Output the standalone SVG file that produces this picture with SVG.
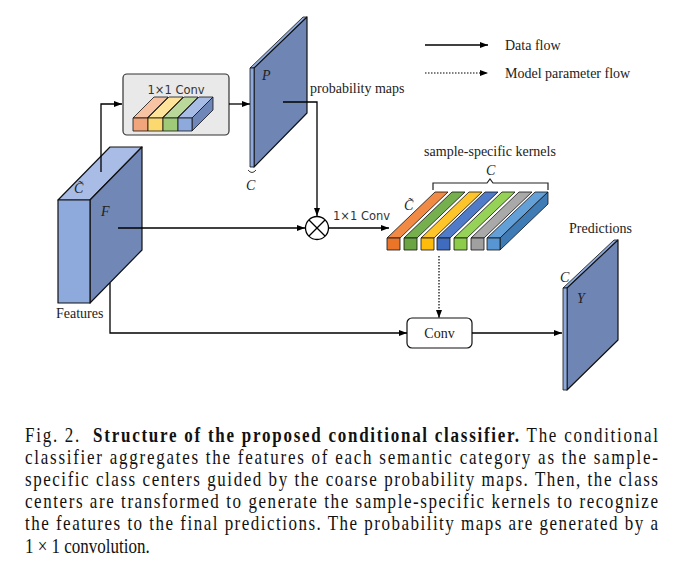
<svg xmlns="http://www.w3.org/2000/svg" width="675" height="583" viewBox="0 0 675 583">
<defs>
<marker id="ah" viewBox="0 0 8 6" refX="8" refY="3" markerWidth="8" markerHeight="6" markerUnits="userSpaceOnUse" orient="auto"><path d="M0,0 L8,3 L0,6 z" fill="#000"/></marker>
<style>
.ln{fill:none;stroke:#000;stroke-width:1.3}
.dt{fill:none;stroke:#000;stroke-width:1.2;stroke-dasharray:1.5 1.5}
.lbl{font-family:"Liberation Serif",serif;font-size:14px;fill:#222}
.mth{font-family:"Liberation Serif",serif;font-style:italic;font-size:14px;fill:#222}
.cv{font-family:"DejaVu Sans",sans-serif;font-size:11.5px;fill:#333}
.cap{font-family:"Liberation Serif",serif;font-size:20px;fill:#111}
.ed{stroke:#111;stroke-width:1.2;stroke-linejoin:round}
.th{stroke:#111;stroke-width:0.8;stroke-linejoin:round}
</style>
</defs>
<rect width="675" height="583" fill="#fff"/>

<g id="legend">
<line class="ln" x1="425" y1="45" x2="488" y2="45" marker-end="url(#ah)"/>
<text class="lbl" x="505" y="50">Data flow</text>
<line class="dt" x1="425" y1="73" x2="488" y2="73" marker-end="url(#ah)"/>
<text class="lbl" x="505" y="78">Model parameter flow</text>
</g>

<g id="features">
<polygon class="ed" points="58,200 110,147 142,147 90,200" fill="#a8bce6"/>
<polygon class="ed" points="90,200 142,147 142,250 90,303" fill="#7187b5"/>
<rect class="ed" x="58" y="200" width="32" height="103" fill="#8eaadc"/>
<text class="mth" x="74" y="193">C̃</text>
<text class="mth" x="101" y="216">F</text>
<text class="lbl" x="56" y="318">Features</text>
</g>

<g id="conv1x1">
<rect x="123" y="74" width="106" height="61" rx="4" fill="#e9e9e9" stroke="#333" stroke-width="1.2"/>
<text class="cv" x="176" y="94" text-anchor="middle">1×1 Conv</text>
<g>
<polygon class="th" points="133,118 154,97 168,97 147,118" fill="#f7c3a3"/>
<polygon class="th" points="148,118 169,97 183,97 162,118" fill="#fde49a"/>
<polygon class="th" points="163,118 184,97 198,97 177,118" fill="#b9d89a"/>
<polygon class="th" points="178,118 199,97 213,97 192,118" fill="#a7bde6"/>
<polygon class="th" points="192,118 213,97 213,110 192,131" fill="#6f86b8"/>
<rect class="th" x="133" y="118" width="15" height="13" fill="#f1a57a"/>
<rect class="th" x="148" y="118" width="15" height="13" fill="#fcd96f"/>
<rect class="th" x="163" y="118" width="15" height="13" fill="#9fcb78"/>
<rect class="th" x="178" y="118" width="14" height="13" fill="#8eaadc"/>
</g>
</g>

<g id="probmaps">
<polygon class="th" points="250,68 303,17 307,17 254,68" fill="#8eaadc"/>
<polygon class="ed" points="254,68 307,17 307,113 254,167" fill="#6f86b5"/>
<rect class="th" x="250" y="68" width="4" height="99" fill="#8eaadc"/>
<path d="M248,170 Q252,175 256,170" fill="none" stroke="#222" stroke-width="0.9"/>
<text class="mth" x="262" y="80">P</text>
<text class="mth" x="246" y="190">C</text>
<text class="lbl" x="310" y="93">probability maps</text>
</g>

<g id="kernels">
<text class="lbl" x="490" y="156" text-anchor="middle">sample-specific kernels</text>
<path d="M433,190 L433,183 L487,183 L490,179 L493,183 L548,183 L548,190" fill="none" stroke="#222" stroke-width="1.2"/>
<text class="mth" x="486" y="175">C</text>
<text class="mth" x="404" y="210">C̃</text>
<polygon class="th" points="387,238 435,192 448,192 400,238" fill="#f08a45"/>
<polygon class="th" points="404,238 452,192 465,192 417,238" fill="#76b04e"/>
<polygon class="th" points="421,238 469,192 482,192 434,238" fill="#fec52a"/>
<polygon class="th" points="437,238 485,192 498,192 450,238" fill="#4f7bc8"/>
<polygon class="th" points="454,238 502,192 515,192 467,238" fill="#96d257"/>
<polygon class="th" points="471,238 519,192 532,192 484,238" fill="#a9a9a9"/>
<polygon class="th" points="487,238 535,192 548,192 500,238" fill="#63a0d8"/>
<polygon class="th" points="500,238 548,192 548,204 500,250" fill="#3f7cb6"/>
<rect class="th" x="387" y="238" width="13" height="12" fill="#ea7428"/>
<rect class="th" x="404" y="238" width="13" height="12" fill="#6aa443"/>
<rect class="th" x="421" y="238" width="13" height="12" fill="#fdbb0b"/>
<rect class="th" x="437" y="238" width="13" height="12" fill="#3f6cbf"/>
<rect class="th" x="454" y="238" width="13" height="12" fill="#8dcb4a"/>
<rect class="th" x="471" y="238" width="13" height="12" fill="#a0a0a0"/>
<rect class="th" x="487" y="238" width="13" height="12" fill="#5796d2"/>
</g>

<g id="conv">
<rect x="407" y="318" width="65" height="30" rx="5" fill="#fff" stroke="#111" stroke-width="1.2"/>
<text class="lbl" x="439.5" y="338" text-anchor="middle">Conv</text>
</g>

<g id="predictions">
<text class="lbl" x="569" y="233">Predictions</text>
<polygon class="th" points="563,288 614,240 618,240 567,288" fill="#8eaadc"/>
<polygon class="ed" points="567,288 618,240 618,340 567,390" fill="#6f86b5"/>
<rect class="th" x="563" y="288" width="4" height="102" fill="#8eaadc"/>
<text class="mth" x="560" y="282">C</text>
<text class="mth" x="577" y="303">Y</text>
</g>

<g id="connectors">
<polyline class="ln" points="101,172 101,104 122,104" marker-end="url(#ah)"/>
<line class="ln" x1="229" y1="104" x2="250" y2="104" marker-end="url(#ah)"/>
<polyline class="ln" points="283,102 317,102 317,216" marker-end="url(#ah)"/>
<line class="ln" x1="118" y1="228" x2="305" y2="228" marker-end="url(#ah)"/>
<line class="ln" x1="329" y1="228" x2="389" y2="228" marker-end="url(#ah)"/>
<line class="dt" x1="439" y1="256" x2="439" y2="318" marker-end="url(#ah)"/>
<polyline class="ln" points="110,283 110,333 407,333" marker-end="url(#ah)"/>
<line class="ln" x1="472" y1="333" x2="562" y2="333" marker-end="url(#ah)"/>
</g>

<g id="multiply">
<circle cx="317" cy="228" r="11.5" fill="#fff" stroke="#000" stroke-width="1.3"/>
<line x1="309" y1="220" x2="325" y2="236" stroke="#000" stroke-width="1.3"/>
<line x1="325" y1="220" x2="309" y2="236" stroke="#000" stroke-width="1.3"/>
<text class="cv" x="333" y="220">1×1 Conv</text>
</g>

<g id="caption" transform="translate(25,0) scale(0.85,1)">
<text class="cap" x="0" y="442" textLength="744.7" lengthAdjust="spacing" xml:space="preserve">Fig. 2.  <tspan font-weight="bold">Structure of the proposed conditional classifier.</tspan> The conditional</text>
<text class="cap" x="0" y="464" textLength="744.7" lengthAdjust="spacing">classifier aggregates the features of each semantic category as the sample-</text>
<text class="cap" x="0" y="486" textLength="744.7" lengthAdjust="spacing">specific class centers guided by the coarse probability maps. Then, the class</text>
<text class="cap" x="0" y="508" textLength="744.7" lengthAdjust="spacing">centers are transformed to generate the sample-specific kernels to recognize</text>
<text class="cap" x="0" y="530" textLength="744.7" lengthAdjust="spacing">the features to the final predictions. The probability maps are generated by a</text>
<text class="cap" x="0" y="553">1 × 1 convolution.</text>
</g>
</svg>
